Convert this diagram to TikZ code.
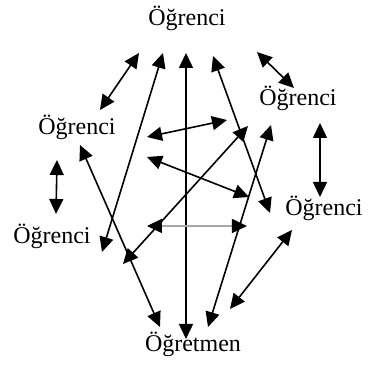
\documentclass[tikz,border=0pt]{standalone}
\usepackage{fontspec}
\setmainfont{Liberation Serif}
\usetikzlibrary{arrows.meta}
\tikzset{
  person/.style={font=\fontsize{12}{14}\selectfont, anchor=base, inner sep=0pt},
  link/.style={>={Triangle[length=7.5pt,width=7pt,color=black]}, <->, line width=0.8pt},
}

\begin{document}
\begin{tikzpicture}[x=0.5pt,y=-0.5pt]
    \useasboundingbox (0,0) rectangle (372,367);
    \node[person] (top) at (187,26) {Öğrenci};
    \node[person] (rup) at (298,106) {Öğrenci};
    \node[person] (lup) at (77,135) {Öğrenci};
    \node[person] (rlo) at (324,216) {Öğrenci};
    \node[person] (llo) at (52,244) {Öğrenci};
    \node[person] (teach) at (193,352) {Öğretmen};
    % arrow ends
    \coordinate (t1) at (139,53);  \coordinate (l1) at (100,110);
    \coordinate (t2) at (163,53);  \coordinate (ll1) at (102,252);
    \coordinate (t3) at (186,53);  \coordinate (b1) at (186,339);
    \coordinate (t4) at (213,56);  \coordinate (rl1) at (270,213);
    \coordinate (t5) at (257,52);  \coordinate (ru1) at (294,88);
    \coordinate (ru2) at (320,123); \coordinate (rl2) at (320,197);
    \coordinate (l2) at (57,160);  \coordinate (ll2) at (56,214);
    \coordinate (l3) at (80,145);  \coordinate (b2) at (160,327);
    \coordinate (c1) at (147,137); \coordinate (c2) at (227,120);
    \coordinate (c3) at (147,157); \coordinate (c4) at (249,197);
    \coordinate (c5) at (248,126); \coordinate (c6) at (123,264);
    \coordinate (c7) at (271,125); \coordinate (b3) at (208,327);
    \coordinate (rl3) at (292,230); \coordinate (b4) at (230,309);
    \coordinate (c8) at (147,226); \coordinate (c9) at (247,226);
    \foreach \p/\q in {t1/l1,t2/ll1,t3/b1,t4/rl1,t5/ru1,ru2/rl2,l2/ll2,l3/b2,c1/c2,c3/c4,c5/c6,c7/b3,rl3/b4}
      \draw[link] (\p) -- (\q);
    \draw[link, draw=black!35] (c8) -- (c9);
\end{tikzpicture}
\end{document}
